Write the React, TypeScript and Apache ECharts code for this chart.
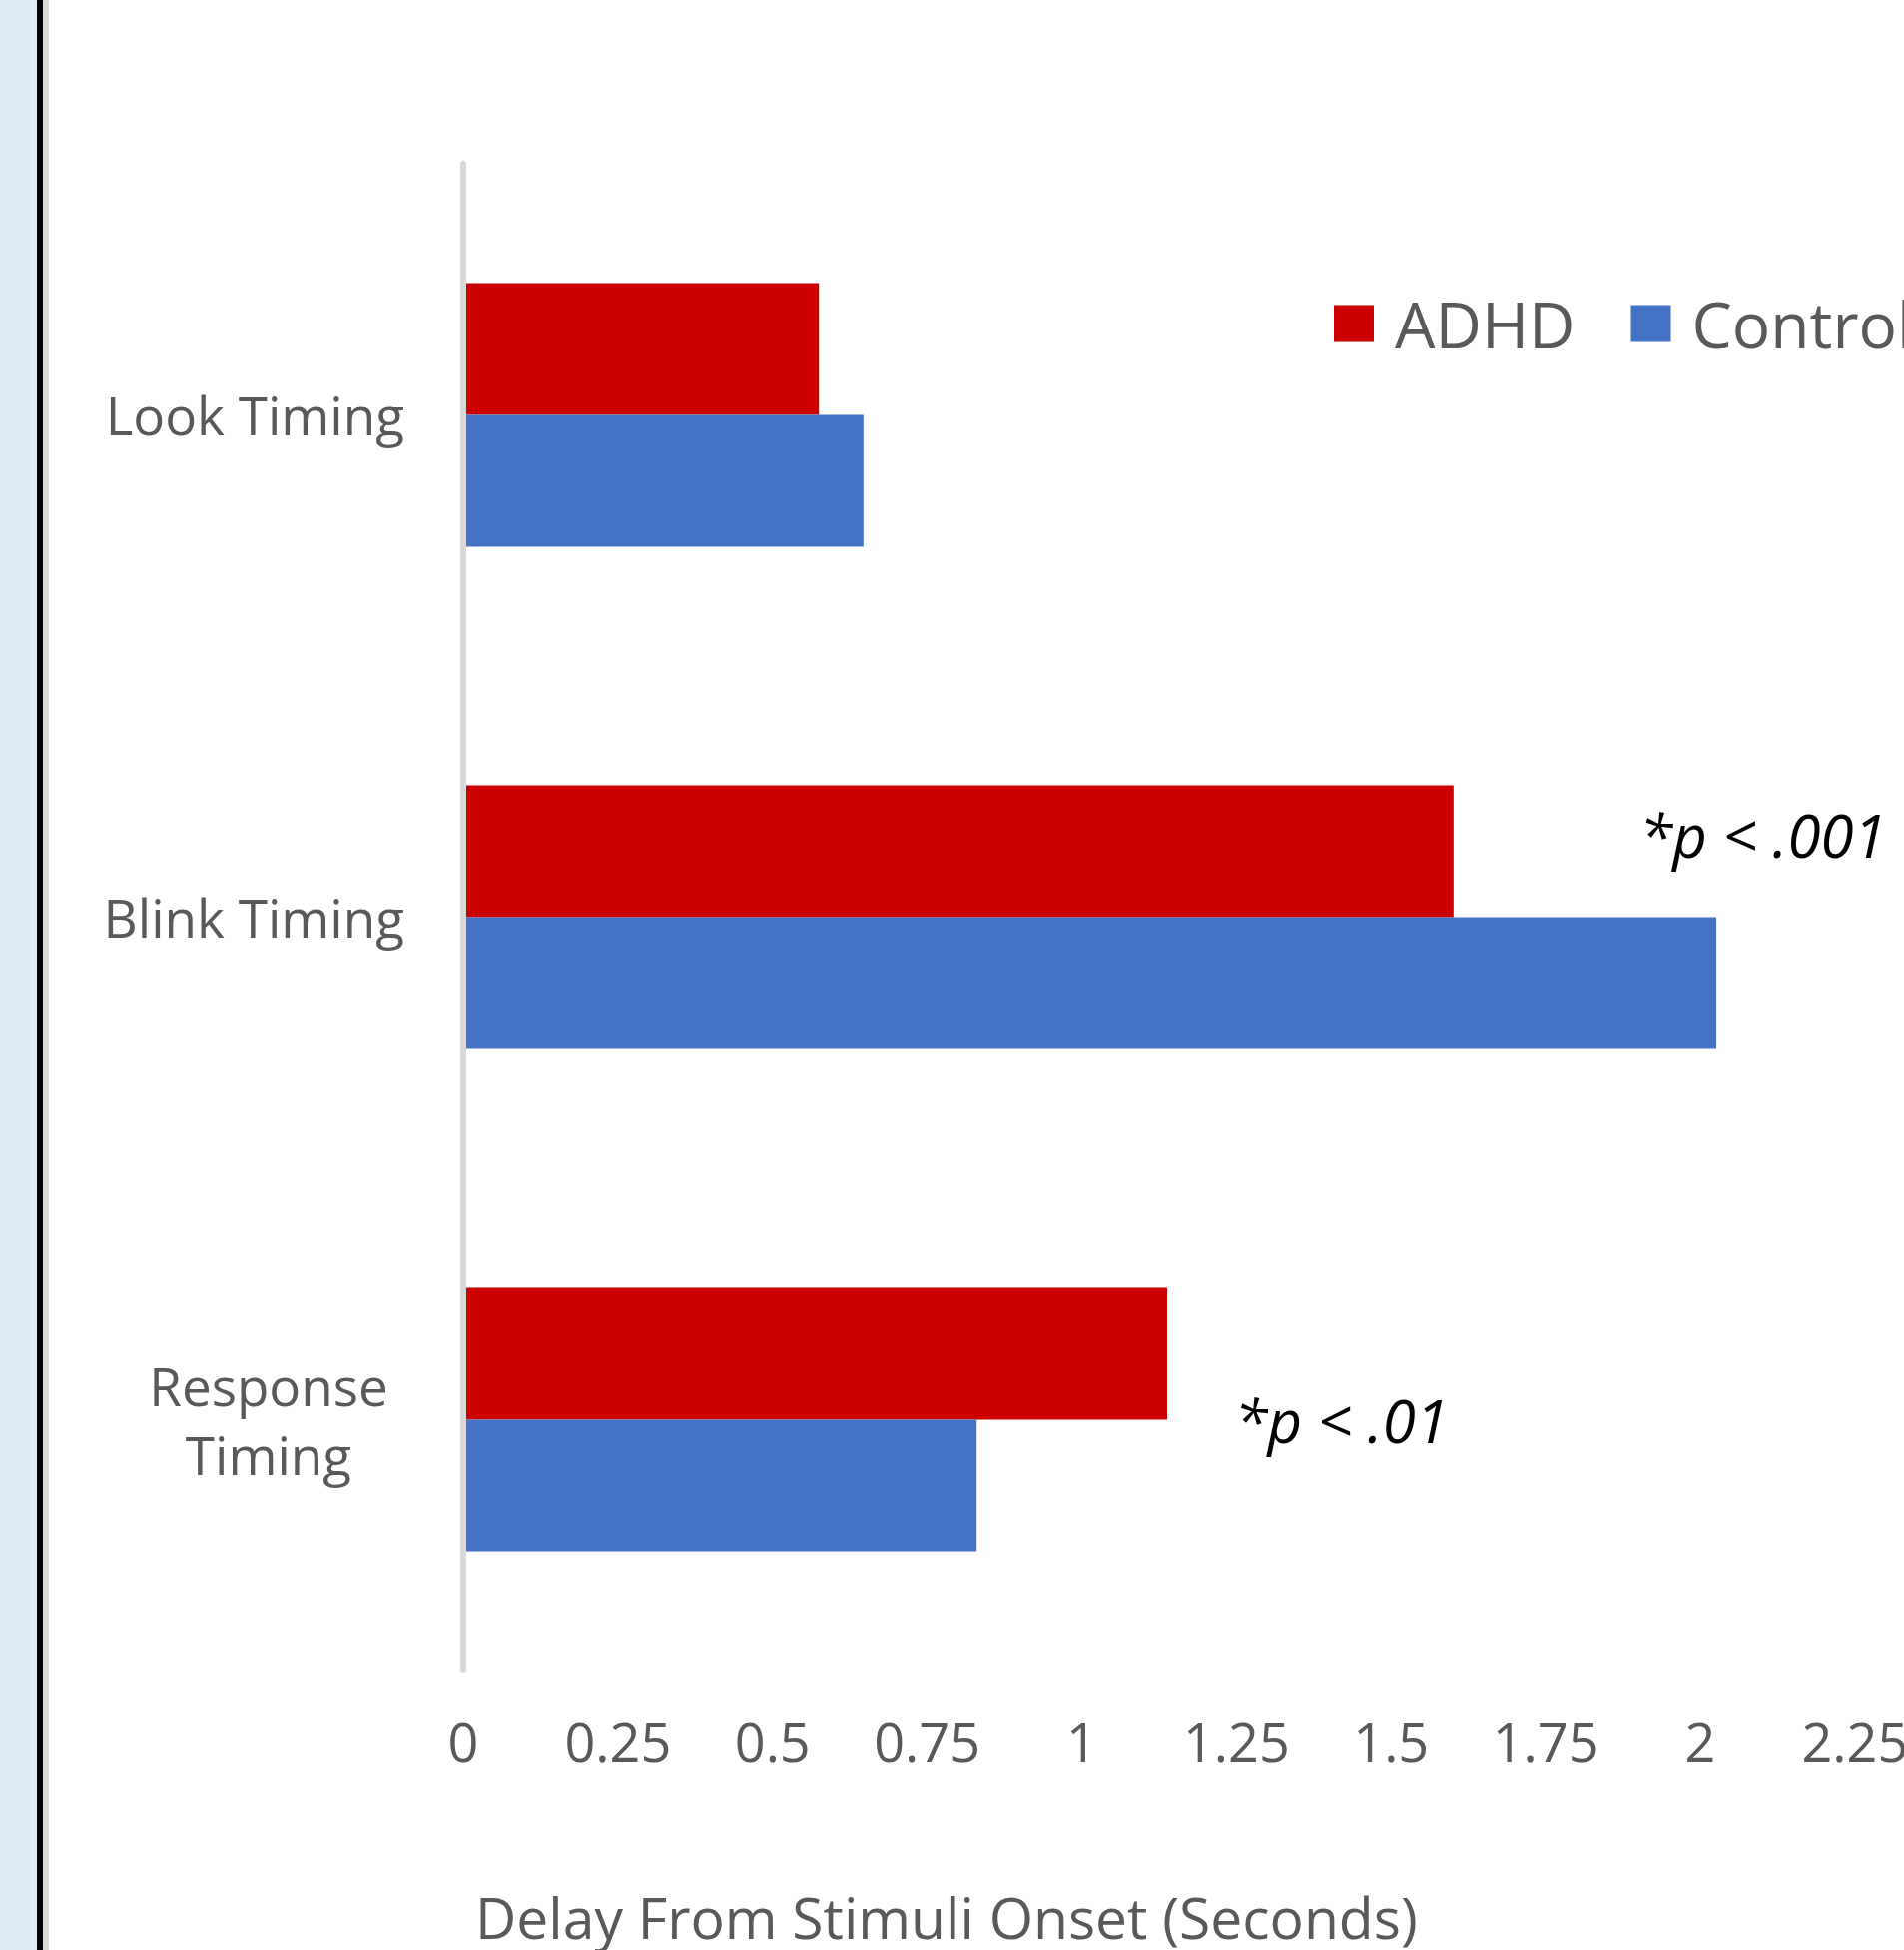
import React, { useEffect, useRef } from "react";
import * as echarts from "echarts";

const categories = ["Look Timing", "Blink Timing", "Response Timing"];
const adhdValues = [0.575, 1.601, 1.138];
const controlValues = [0.647, 2.026, 0.83];
const seriesNames = ["ADHD", "Control"];
const xTickMin = 0;
const xTickMax = 2.5;
const xTickStep = 0.25;
const axisTitle = "Delay From Stimuli Onset (Seconds)";
const annotationCats = ["Blink Timing", "Response Timing"];
const annotationX = [1.902, 1.247];
const annotationText = ["*p < .001", "*p < .01"];
const annotationDy = [-17, 66];

const FONT = "'Open Sans', 'Noto Sans', sans-serif";
const GRAY = "#595959";

export default function App() {
  const ref = useRef<HTMLDivElement>(null);
  useEffect(() => {
    if (!ref.current) return;
    const chart = echarts.init(ref.current, undefined, { renderer: "svg" });
    const pxPerUnit = 619.5;
    chart.setOption({
      animation: false,
      backgroundColor: "#ffffff",
      textStyle: { fontFamily: FONT },
      graphic: [
        { type: "rect", left: 0, top: 0, shape: { width: 37, height: 1953 }, style: { fill: "#deeaf6" }, z: 10 },
        { type: "rect", left: 37, top: 0, shape: { width: 6, height: 1953 }, style: { fill: "#000000" }, z: 10 },
        { type: "rect", left: 43, top: 0, shape: { width: 6, height: 1953 }, style: { fill: "#d9d9d9" }, z: 10 },
      ],
      title: {
        text: axisTitle,
        left: 476,
        top: 1891,
        padding: 0,
        textStyle: { fontFamily: FONT, fontSize: 57, fontWeight: "normal", color: GRAY },
      },
      legend: {
        data: seriesNames,
        left: 1336,
        top: 292,
        padding: 0,
        itemWidth: 40,
        itemHeight: 37,
        itemGap: 56,
        icon: "rect",
        textStyle: { fontFamily: FONT, fontSize: 64, color: GRAY, padding: [0, 0, 0, 16] },
      },
      grid: {
        left: 464,
        top: 164,
        width: (xTickMax - xTickMin) * pxPerUnit,
        height: 1509,
        containLabel: false,
      },
      xAxis: {
        type: "value",
        min: xTickMin,
        max: xTickMax,
        interval: xTickStep,
        axisLine: { show: false },
        axisTick: { show: false },
        splitLine: { show: false },
        axisLabel: { fontFamily: FONT, fontSize: 54, color: GRAY, margin: 44 },
      },
      yAxis: {
        type: "category",
        data: categories,
        inverse: true,
        z: 3,
        axisLine: { show: true, lineStyle: { color: "#d9d9d9", width: 6 } },
        axisTick: { show: false },
        axisLabel: {
          fontFamily: FONT,
          fontSize: 53,
          color: GRAY,
          margin: 59,
          formatter: (v: string) => {
            const parts = v.split(" ");
            if (v.length > 14) return parts.map((p) => "{c|" + p + "}").join("\n");
            return v;
          },
          rich: {
            c: { fontFamily: FONT, fontSize: 53, color: GRAY, width: 272, align: "center", lineHeight: 69 },
          },
        },
      },
      series: [
        {
          name: seriesNames[0],
          type: "bar",
          data: adhdValues,
          barWidth: 132,
          barGap: "0%",
          itemStyle: { color: "#cc0000" },
          markPoint: {
            symbol: "circle",
            symbolSize: 0,
            data: annotationCats.map((c, i) => ({
              coord: [annotationX[i], c],
              label: {
                show: true,
                position: "inside",
                align: "left",
                verticalAlign: "middle",
                offset: [0, annotationDy[i]],
                formatter: annotationText[i],
                fontFamily: FONT,
                fontStyle: "italic",
                fontSize: 60,
                color: "#000000",
              },
            })),
          },
        },
        {
          name: seriesNames[1],
          type: "bar",
          data: controlValues,
          barWidth: 132,
          barGap: "0%",
          itemStyle: { color: "#4472c4" },
        },
      ],
    });
    return () => chart.dispose();
  }, []);
  return (
    <div style={{ position: "fixed", left: 0, top: 0, width: 1907, height: 1953, overflow: "hidden", background: "#fff" }}>
      <div ref={ref} style={{ width: 2400, height: 1953 }} />
    </div>
  );
}
